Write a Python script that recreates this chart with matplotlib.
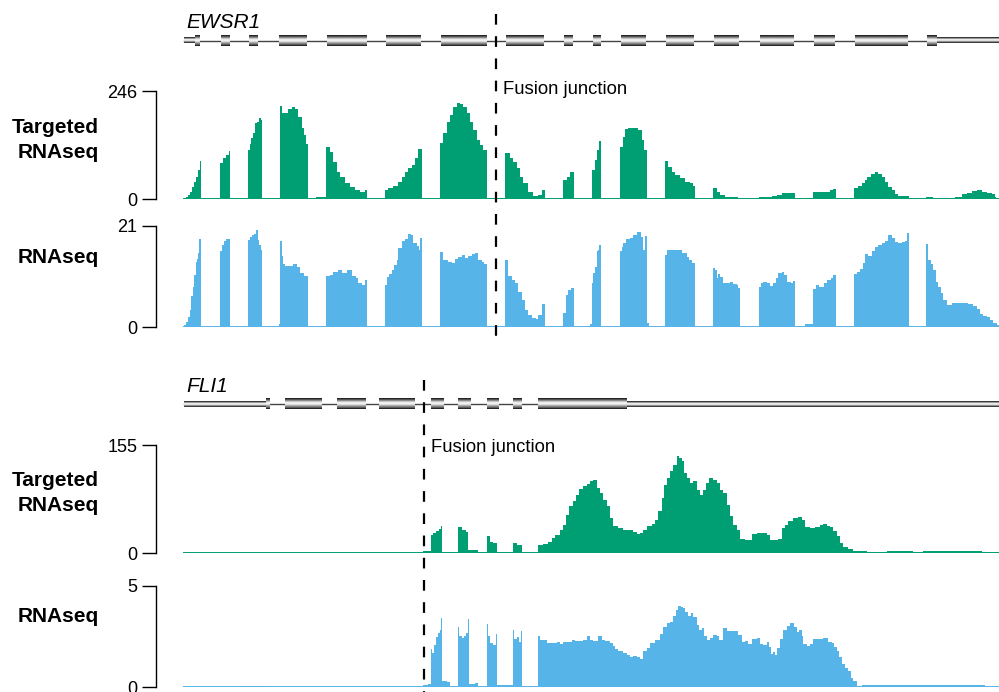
import numpy as np
import matplotlib.pyplot as plt

plt.rcParams['font.family'] = ['Liberation Sans', 'DejaVu Sans']

GREEN = '#009E73'
BLUE = '#56B4E9'

# locus positions are in plot units shared by every track
x_start, x_end = 183, 999

# ---- EWSR1 gene model ----
ewsr1_exons = [(195, 200), (220.7, 229.3), (249, 257.7), (279.3, 306.7), (326.7, 366.7),
               (386, 420.7), (440.7, 486), (506, 544), (564, 572.7), (592.7, 600),
               (621, 645.7), (666, 694), (714, 739), (760, 794), (814, 835),
               (855, 907.7), (926.7, 936.7)]
ewsr1_utrs = [(184, 195), (936.7, 999)]
ewsr1_junction = 495.5

# ---- FLI1 gene model ----
fli1_exons = [(266, 270), (285, 321.7), (336.7, 365), (379, 415), (431, 443.3),
              (457.7, 470), (486.7, 498.3), (513.3, 521.7), (538.3, 626.7)]
fli1_utrs = [(184, 266), (626.7, 999)]
fli1_junction = 424

# ---- coverage (position, depth) steps ----
ewsr1_targeted = [
    (184, 2), (186, 5), (188, 9), (190, 17), (192, 28), (194, 39), (196, 51), (198, 66), (200, 87), (200.7, 0),
    (220, 81), (222.7, 93), (226, 100), (229.3, 109), (230, 0),
    (248, 112), (250, 125), (251.3, 138), (253.3, 150), (255.3, 172), (257.3, 176), (259.3, 184), (261.3, 180), (262, 0),
    (274, 3), (280, 212), (281.7, 197), (285, 197), (288.3, 204), (291.7, 209), (295, 204), (298.3, 187),
    (301.7, 161), (304, 146), (306, 125), (308, 0),
    (316, 5), (326, 119), (330, 108), (333.3, 85), (336.7, 62), (340, 51), (345, 36), (350, 27), (355, 20),
    (360, 17), (365, 20), (366.7, 0),
    (385, 20), (388.3, 24), (393.3, 30), (398.3, 39), (401.7, 51), (405, 62), (408.3, 70), (411.7, 77),
    (415, 93), (418.3, 114), (421.7, 0),
    (440, 127), (443.3, 150), (446.7, 176), (450, 191), (453.3, 210), (456.7, 218), (460, 216), (463.3, 209),
    (466.7, 195), (470, 176), (473.3, 157), (476.7, 134), (480, 123), (483.3, 112), (486.7, 0),
    (495.3, 3), (505, 104), (510, 93), (513.3, 85), (516.7, 70), (520, 51), (523.3, 36), (528.3, 17),
    (533.3, 7), (538.3, 9), (541.7, 20), (545, 0),
    (563.3, 43), (566.7, 51), (570, 62), (574, 0),
    (592.3, 66), (595, 89), (597.3, 112), (599.3, 131), (600.7, 0),
    (620, 119), (622.7, 142), (625, 159), (628.3, 162), (635, 162), (638.3, 157), (641.7, 134), (644, 112), (646.7, 0),
    (665, 87), (668.3, 74), (671.7, 62), (675, 55), (680, 47), (685, 39), (690, 36), (693.3, 30), (695, 0),
    (713.3, 24), (716.7, 17), (720, 9), (725, 5), (730, 4), (738.3, 2), (740, 0),
    (759.3, 4), (771.7, 7), (776.7, 9), (781.7, 13), (786.7, 14), (795, 0),
    (805, 2), (813.3, 15), (825, 17), (830, 20), (833.3, 23), (836, 0),
    (854, 24), (858.3, 30), (861.7, 36), (865, 43), (867.3, 51), (870.7, 58), (875, 62), (878.3, 58),
    (881.7, 51), (885, 39), (888.3, 28), (891.7, 20), (895, 11), (898.3, 6), (909.3, 0),
    (926, 4), (933, 0), (946.7, 2), (955, 5), (961.7, 11), (966.7, 14), (971.7, 19), (976.7, 20),
    (981.7, 17), (986.7, 13), (991.7, 11), (995, 5), (996, 0), (999, 0),
]

ewsr1_rnaseq = [
    (184, 0.4), (186, 1.1), (188, 2.1), (190, 3.5), (191, 6.4), (192.7, 8.4), (194.3, 10.8), (195.7, 13.6),
    (196.7, 14.1), (198, 15.3), (199.3, 18.4), (200.7, 0),
    (220, 15.9), (221.7, 17.0), (224, 17.9), (226, 18.3), (230, 0),
    (248, 18.1), (250, 18.8), (251.7, 19.1), (254, 19.3), (256, 20.2), (257.7, 18.1), (259.3, 17.0), (260.7, 16.1), (261.7, 0),
    (279, 0.6), (280, 17.9), (282, 14.8), (283.3, 13.2), (285, 12.7), (293.3, 13.2), (296.7, 12.5),
    (300, 11.3), (304, 10.6), (307.7, 0),
    (326, 10.6), (330, 10.8), (333.3, 11.5), (338.3, 11.9), (341.7, 11.3), (346.7, 11.9), (351.7, 10.6),
    (356, 10.1), (358.3, 9.2), (361.7, 8.7), (365, 9.8), (366.7, 0),
    (385, 8.7), (387.3, 10.5), (389.3, 11.0), (391.7, 11.9), (394, 12.9), (396.7, 13.9), (398.3, 16.4),
    (401.7, 17.9), (405, 18.4), (408.3, 19.3), (410.7, 19.1), (413.3, 17.5), (416.7, 16.8), (418.7, 16.1),
    (420, 18.6), (422, 0),
    (440, 15.5), (443.3, 13.9), (448.3, 13.6), (451.7, 13.4), (455, 14.1), (458.3, 14.6), (461.7, 15.0),
    (465, 14.3), (468.3, 14.8), (471.7, 15.2), (475, 15.3), (478.3, 13.9), (481.7, 13.6), (484, 13.2), (486.7, 0),
    (505, 13.9), (507.7, 10.6), (511.7, 9.8), (515, 9.1), (518.3, 7.3), (521.7, 5.6), (525, 3.5), (528.3, 2.5),
    (531.7, 1.9), (536, 1.7), (538.3, 2.5), (541.7, 4.8), (545, 0),
    (563.3, 3.0), (565.7, 6.7), (568.3, 7.7), (570.7, 8.2), (574, 0),
    (590, 0.6), (592, 9.1), (593.3, 11.2), (595, 12.5), (596.7, 15.7), (598.3, 16.0), (599.3, 17.0), (600.7, 0),
    (620, 15.7), (621.7, 16.7), (623.3, 17.4), (626, 18.4), (630, 18.6), (633.3, 19.1), (636.7, 19.8),
    (641, 18.8), (642.7, 16.1), (645, 18.9), (646.7, 0.9), (649, 0),
    (665, 15.0), (666.7, 16.0), (679.3, 16.1), (681.7, 15.3), (686.7, 14.6), (689.3, 13.9), (691.7, 13.4), (695, 0),
    (713.3, 12.2), (715, 11.9), (716.7, 10.1), (718.3, 11.0), (720, 10.5), (722.7, 9.1), (730, 9.4),
    (733.3, 8.9), (736.7, 8.7), (738.3, 8.2), (740, 0),
    (759.3, 8.4), (761, 9.2), (763.3, 9.4), (766.7, 9.1), (770, 8.5), (772.7, 9.1), (776, 10.1), (778.3, 11.3),
    (781.7, 11.5), (784, 10.8), (786.7, 9.4), (790.7, 9.2), (793.3, 9.6), (795, 0),
    (805, 0.6), (812.7, 8.0), (816, 8.7), (819.3, 8.4), (824, 9.1), (827.3, 9.8), (830.7, 10.1), (833.3, 10.8), (836, 0),
    (854, 11.0), (856.7, 11.5), (860, 12.1), (862.7, 13.4), (865, 15.2), (868.3, 14.8), (871.7, 15.9),
    (875, 16.7), (878.3, 17.0), (881.7, 17.5), (885, 17.9), (888.3, 19.1), (891.7, 18.6), (895, 17.7),
    (898.3, 17.4), (901.7, 17.7), (905, 17.9), (907.3, 19.5), (909.3, 0),
    (926, 17.3), (928.3, 13.9), (930.7, 13.2), (933.3, 11.9), (936, 9.4), (938.3, 8.4), (940.7, 7.0),
    (943.3, 5.6), (946.7, 4.6), (951.7, 4.9), (968.3, 4.8), (973.3, 4.4), (976.7, 3.7), (980, 2.8),
    (983.3, 2.3), (986.7, 2.1), (990, 1.5), (993.3, 0.9), (996.7, 0.4), (999, 0.4),
]

fli1_targeted = [
    (183, 0), (423.3, 3.3),
    (430.7, 25.8), (433.3, 29), (436, 31.5), (439.3, 35), (441, 38.7), (441.7, 1.9),
    (457.7, 37.8), (461.7, 33), (466, 30.6), (468.3, 4.3), (478.3, 0),
    (486.7, 24.4), (490, 16.3), (493.3, 13.9), (496.7, 1),
    (513.3, 13.9), (516.7, 11), (521.7, 0.5),
    (537.7, 11), (543.3, 12.9), (548.3, 15.3), (551.7, 21.5), (555, 26.3), (560, 32.5), (563.3, 40.6),
    (566, 55), (569.3, 66.9), (572.7, 74.1), (576, 83.7), (579.3, 91.8), (582.7, 95.6), (586.7, 99.4),
    (590, 102.8), (593.3, 104.2), (596.7, 93.2), (600, 86), (603.3, 76.5), (606.7, 66.9), (610, 50.2),
    (613.3, 39.2), (618.3, 35.9), (623.3, 33.5), (628.3, 32.5), (633.3, 29.6), (636.7, 27.7), (640, 28.7),
    (643.3, 33.5), (646.7, 38.2), (651.7, 42.1), (655, 47.8), (658.3, 59.8), (661.7, 78.9), (664, 98),
    (666.7, 107.6), (670, 117.1), (673.3, 126.7), (676.7, 138.6), (679.3, 136.2), (681.7, 131.5),
    (684, 114.7), (686.7, 107.6), (690, 100.4), (693.3, 102.8), (696.7, 90.8), (700, 83.7), (702.7, 90.8),
    (706, 100.4), (709.3, 107.6), (712.7, 105.2), (716.7, 100.4), (720, 90.8), (723.3, 86), (726.7, 69.3),
    (730, 52.6), (733.3, 40.6), (736.7, 33.5), (740, 20.1), (745, 19.1), (751.7, 27.2), (756.7, 28.7),
    (767.3, 26.3), (770, 19.1), (775, 18.2), (778.3, 20.1), (781.7, 35.9), (785, 40.6), (788.3, 45.4),
    (793.3, 50.2), (798.3, 51.6), (801.7, 47.8), (805, 37.3), (810, 35.9), (815, 37.3), (820, 40.6),
    (823.3, 42.1), (826.7, 39.2), (830, 37.3), (833.3, 31.1), (836.7, 23.9), (840, 14.3), (843.3, 8.1),
    (848.3, 5.7), (853.3, 3.3), (860, 2.4), (866.7, 1.9), (886.7, 3.3), (900, 2.4), (913.3, 1.4),
    (923.3, 2.4), (956.7, 3.3), (981.7, 1.9), (990, 1), (999, 1),
]

fli1_rnaseq = [
    (183, 0.02), (245, 0.05), (265, 0.02), (423.3, 0.1), (428.3, 0.17),
    (430.7, 1.88), (432.3, 1.68), (434, 2.08), (436, 2.46), (438.3, 2.67), (440, 2.82), (441, 3.4),
    (441.7, 0.31), (446.7, 0.23), (450, 0.05),
    (457.7, 2.97), (459.3, 2.54), (461.7, 2.44), (464, 2.54), (466, 2.67), (468.3, 3.37),
    (469.3, 0.15), (475, 0.2), (478.3, 0.05),
    (486.7, 3.12), (488.3, 2.54), (490, 2.18), (493.3, 2.08), (495.7, 2.62), (496.7, 0.1),
    (512.7, 2.82), (514.3, 2.38), (517.3, 2.49), (519, 2.24), (520.7, 2.77), (521.7, 0.05), (530, 0.07),
    (538, 2.51), (540, 2.34), (546.7, 2.18), (556.7, 2.24), (560, 2.13), (563.3, 2.21), (571.7, 2.34),
    (575, 2.28), (583.3, 2.34), (586.7, 2.51), (590, 2.34), (593.3, 2.28), (598.3, 2.54), (601.7, 2.34),
    (605, 2.28), (610, 2.18), (612.7, 2.01), (615, 1.88), (618.3, 1.8), (623.3, 1.68), (626.7, 1.58),
    (630, 1.47), (633.3, 1.52), (636.7, 1.47), (640, 1.39), (642.7, 1.8), (646.7, 1.91), (650, 2.18),
    (655, 2.34), (660, 2.62), (663.3, 2.95), (666.7, 3.15), (670, 3.23), (673.3, 3.5), (676, 3.83),
    (678.3, 4.03), (680.7, 3.96), (682.7, 3.89), (685, 3.73), (688.3, 3.5), (690.7, 3.66), (693.3, 3.45),
    (696.7, 3.07), (699.3, 2.84), (701.7, 2.9), (704, 2.54), (706.7, 2.34), (710, 2.41), (713.3, 2.57),
    (716.7, 2.54), (719.3, 2.34), (722.7, 2.9), (726.7, 2.79), (738.3, 2.57), (741.7, 2.24), (745, 2.29),
    (748.3, 2.13), (751.7, 2.38), (756.7, 2.41), (760, 2.13), (763.3, 2.08), (766.7, 2.21), (769.3, 1.96),
    (770.7, 1.63), (773.3, 1.72), (775, 1.58), (776.7, 1.91), (780, 2.38), (783.3, 2.84), (786.7, 3.0),
    (790, 3.17), (794, 2.95), (796.7, 2.71), (799.3, 2.84), (801.7, 2.54), (803.3, 2.13), (806.7, 2.05),
    (810, 2.13), (813.3, 2.38), (823.3, 2.41), (828.3, 2.24), (831.7, 2.18), (834, 1.96), (836.7, 1.8),
    (839.3, 1.47), (841.7, 1.14), (845, 0.92), (848.3, 0.81), (850.7, 0.43), (853.3, 0.31), (857.3, 0.07),
    (862, 0.1), (985, 0.07), (986.7, 0.02), (999, 0.02),
]

tracks = [
    # (coverage, max, colour, label, label centre y, axes bottom px, axes top px)
    (ewsr1_targeted, 246, GREEN, 'Targeted\nRNAseq', 140, 199, 91),
    (ewsr1_rnaseq, 21, BLUE, 'RNAseq', 258, 327, 226),
    (fli1_targeted, 155, GREEN, 'Targeted\nRNAseq', 493, 553, 445),
    (fli1_rnaseq, 5, BLUE, 'RNAseq', 617, 687, 586),
]

W, H = 999, 692
fig = plt.figure(figsize=(W / 100, H / 100), dpi=100)

for cov, ymax, color, label, label_y, y0, y1 in tracks:
    ax = fig.add_axes([x_start / W, 1 - y0 / H, (x_end - x_start) / W, (y0 - y1) / H])
    pos, val = np.array(cov).T
    ax.fill_between(pos, val, step='post', color=color, lw=0)
    ax.axhline(0, color=color, lw=1.4)
    ax.set_xlim(x_start, x_end)
    ax.set_ylim(0, ymax)
    for s in ['top', 'right', 'bottom']:
        ax.spines[s].set_visible(False)
    ax.spines['left'].set_position(('outward', 19.5))
    ax.spines['left'].set_linewidth(1.0)
    ax.set_xticks([])
    ax.set_yticks([0, ymax])
    ax.tick_params(axis='y', length=10, width=1.0, pad=3.5, labelsize=13)
    ax.patch.set_visible(False)
    fig.text(99 / W, 1 - label_y / H, label, ha='right', va='center',
             fontsize=15, fontweight='bold', linespacing=1.4)

# overlay for gene models, junctions and notes (y in layout units, top down)
ov = fig.add_axes([x_start / W, 0, (x_end - x_start) / W, 1])
ov.set_xlim(x_start, x_end)
ov.set_ylim(H, 0)
ov.axis('off')
ov.patch.set_visible(False)

shade = np.array([0.15, 0.35, 0.6, 0.85, 0.97, 0.93, 0.75, 0.55, 0.4, 0.15])[:, None]


def draw_gene(exons, utrs, yc, name):
    ov.plot([utrs[0][0], utrs[-1][1]], [yc, yc], color='#444444', lw=1.0, zorder=2)
    for a, b in utrs:
        ov.imshow(shade, cmap='gray', vmin=0, vmax=1, aspect='auto', interpolation='bilinear',
                  extent=[a, b, yc + 3, yc - 3], zorder=3)
    for a, b in exons:
        ov.imshow(shade, cmap='gray', vmin=0, vmax=1, aspect='auto', interpolation='bilinear',
                  extent=[a, b, yc + 5.5, yc - 5.5], zorder=4)
    ov.text(186, yc - 18, name, fontsize=15, style='italic', ha='left', va='center')


draw_gene(ewsr1_exons, ewsr1_utrs, 40.5, 'EWSR1')
draw_gene(fli1_exons, fli1_utrs, 404, 'FLI1')

dash = (0, (4.8, 5.2))
ov.plot([ewsr1_junction, ewsr1_junction], [14, 340], color='black', lw=1.6, linestyle=dash, zorder=6)
ov.plot([fli1_junction, fli1_junction], [380, 692], color='black', lw=1.6, linestyle=dash, zorder=6)
ov.text(ewsr1_junction + 7.5, 90, 'Fusion junction', fontsize=13.3, ha='left', va='center')
ov.text(fli1_junction + 7, 448, 'Fusion junction', fontsize=13.3, ha='left', va='center')

ov.set_xlim(x_start, x_end)
ov.set_ylim(H, 0)

fig.savefig('out.png', dpi=100)
